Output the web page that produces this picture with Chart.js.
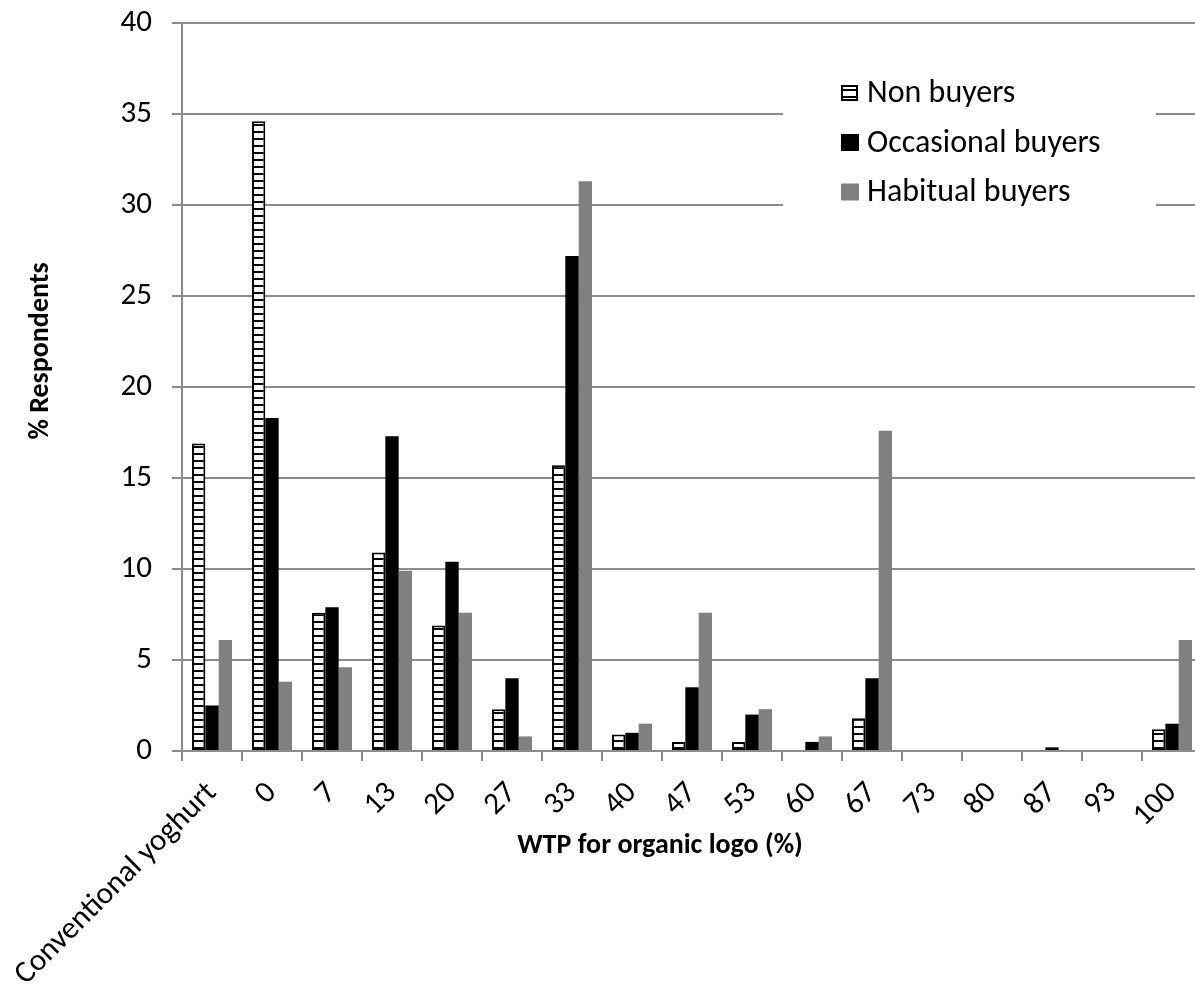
<!DOCTYPE html>
<html>
<head>
<meta charset="utf-8">
<script src="https://cdn.jsdelivr.net/npm/chart.js@4.4.1/dist/chart.umd.min.js"></script>
<style>
    html, body { margin: 0; padding: 0; background: #fff; overflow: hidden; }
    #wrap { position: relative; width: 1215px; height: 989px; }
</style>
</head>
<body>
<div id="wrap"><canvas id="chart"></canvas></div>
<script>
const categories = ['Conventional yoghurt', '0', '7', '13', '20', '27', '33', '40', '47', '53', '60', '67', '73', '80', '87', '93', '100'];
const nonBuyers = [16.9, 34.6, 7.6, 10.9, 6.9, 2.3, 15.7, 0.9, 0.5, 0.5, 0, 1.8, 0, 0, 0, 0, 1.2];
const occasionalBuyers = [2.5, 18.3, 7.9, 17.3, 10.4, 4.0, 27.2, 1.0, 3.5, 2.0, 0.5, 4.0, 0, 0, 0.2, 0, 1.5];
const habitualBuyers = [6.1, 3.8, 4.6, 9.9, 7.6, 0.8, 31.3, 1.5, 7.6, 2.3, 0.8, 17.6, 0, 0, 0, 0, 6.1];
const seriesNames = ['Non buyers', 'Occasional buyers', 'Habitual buyers'];
const yMin = 0, yMax = 40, yStep = 5;
const xTitle = 'WTP for organic logo (%)';
const yTitle = '% Respondents';

const FONT = "Calibri, Carlito, 'Open Sans', sans-serif";
const gridColor = '#8c8c8c';

// horizontal stripes for the non buyers bars
function stripes() {
    const c = document.createElement('canvas');
    c.width = 8;
    c.height = 7;
    const g = c.getContext('2d');
    g.fillStyle = '#fff';
    g.fillRect(0, 0, 8, 7);
    g.fillStyle = '#000';
    g.fillRect(0, 5, 8, 2);
    return g.createPattern(c, 'repeat');
}
const stripePattern = stripes();

const fills = [stripePattern, '#000000', '#808080'];

// legend box + axis titles drawn on top
const extrasPlugin = {
    id: 'extras',
    afterDraw(chart) {
        const ctx = chart.ctx;
        ctx.save();

        // legend
        ctx.fillStyle = '#fff';
        ctx.fillRect(783, 62, 373, 160);
        ctx.font = `32px ${FONT}`;
        ctx.textBaseline = 'middle';
        ctx.textAlign = 'left';
        chart.data.datasets.forEach((ds, i) => {
            const cy = 93 + i * 49.5;
            if (i === 0) {
                ctx.fillStyle = stripePattern;
                ctx.fillRect(841, cy - 8, 17, 16);
                ctx.strokeStyle = '#000';
                ctx.lineWidth = 2;
                ctx.strokeRect(842, cy - 7, 15, 14);
            } else {
                ctx.fillStyle = fills[i];
                ctx.fillRect(841, cy - 8.5, 18, 17);
            }
            ctx.fillStyle = '#000';
            ctx.fillText(ds.label, 867, cy + 1);
        });

        // axis titles
        ctx.font = `bold 28px ${FONT}`;
        ctx.textAlign = 'center';
        ctx.fillText(xTitle, 660, 846);
        ctx.translate(41, 351);
        ctx.rotate(-Math.PI / 2);
        ctx.fillText(yTitle, 0, 0);
        ctx.restore();
    }
};

new Chart(document.getElementById('chart'), {
    type: 'bar',
    data: {
        labels: categories,
        datasets: [
            {
                label: seriesNames[0],
                data: nonBuyers,
                backgroundColor: stripePattern,
                borderColor: '#000',
                borderWidth: 2,
                borderSkipped: false
            },
            {
                label: seriesNames[1],
                data: occasionalBuyers,
                backgroundColor: '#000000'
            },
            {
                label: seriesNames[2],
                data: habitualBuyers,
                backgroundColor: '#808080'
            }
        ]
    },
    options: {
        responsive: true,
        maintainAspectRatio: false,
        animation: false,
        categoryPercentage: 0.667,
        barPercentage: 1,
        layout: { padding: { top: 23, right: 13, left: 0, bottom: 0 } },
        plugins: {
            legend: { display: false },
            tooltip: { enabled: false }
        },
        scales: {
            x: {
                grid: {
                    display: true,
                    offset: true,
                    drawOnChartArea: false,
                    drawTicks: true,
                    tickLength: 10,
                    color: gridColor,
                    lineWidth: 2
                },
                border: { color: gridColor, width: 2 },
                ticks: {
                    autoSkip: false,
                    minRotation: 45,
                    maxRotation: 45,
                    padding: 14,
                    color: '#000',
                    font: { family: FONT, size: 31 }
                },
                afterFit(scale) {
                    scale.height = 238;
                    scale.paddingLeft = 0;
                    scale.paddingRight = 0;
                }
            },
            y: {
                min: yMin,
                max: yMax,
                ticks: {
                    stepSize: yStep,
                    padding: 20,
                    color: '#000',
                    font: { family: FONT, size: 31 }
                },
                grid: {
                    color: gridColor,
                    lineWidth: 2,
                    tickLength: 10
                },
                border: { color: gridColor, width: 2 },
                afterFit(scale) {
                    scale.width = 182;
                    scale.paddingTop = 0;
                    scale.paddingBottom = 0;
                }
            }
        }
    },
    plugins: [extrasPlugin]
});
</script>
</body>
</html>
